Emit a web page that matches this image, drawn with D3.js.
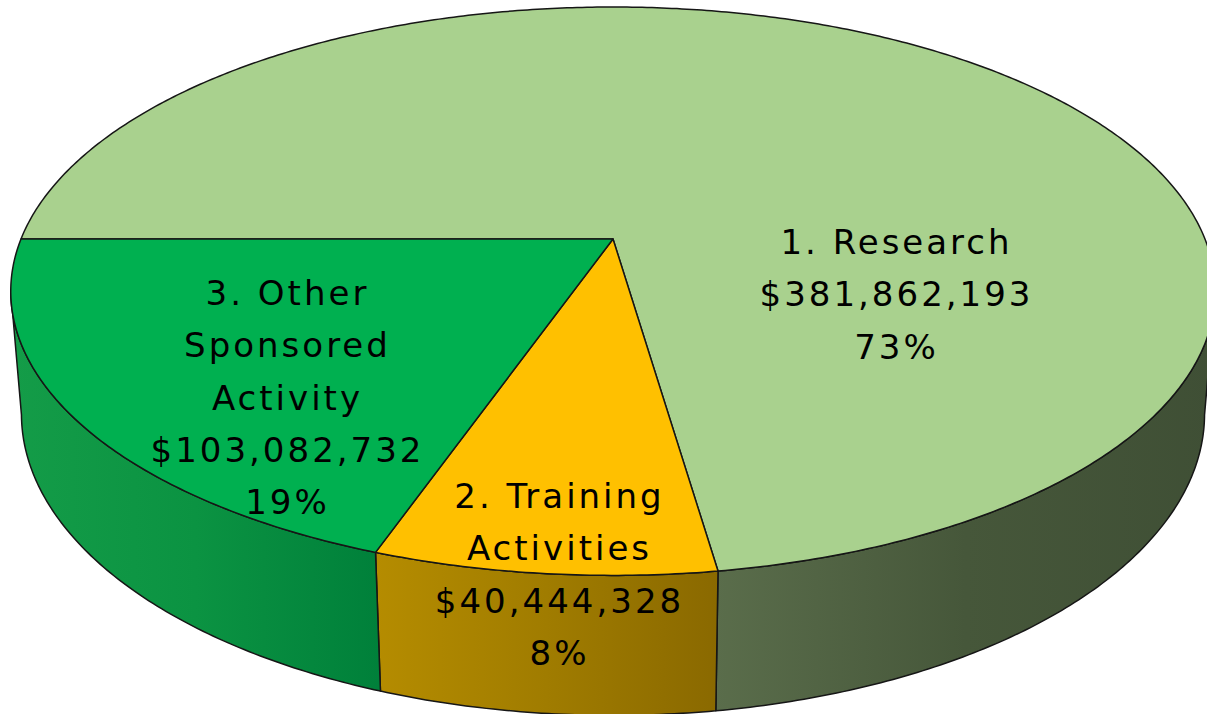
<!DOCTYPE html>
<html><head><meta charset="utf-8">
<script src="https://cdn.jsdelivr.net/npm/d3@7"></script>
<style>html,body{margin:0;padding:0;background:#fff;overflow:hidden}</style>
</head><body>
<svg id="chart" width="1207" height="714"></svg>
<script>
// ---- data ----
const categories = ["1. Research", "2. Training Activities", "3. Other Sponsored Activity"];
const values = [381862193, 40444328, 103082732];
const percentLabels = ["73%", "8%", "19%"];
const labelLines = [["1. Research"], ["2. Training", "Activities"], ["3. Other", "Sponsored", "Activity"]];
const topColors = ["#a9d18e", "#ffc000", "#00b050"];
const wallStops = [
  ["#5a6d4b", "#46573a", "#3f4f35"],
  ["#b58c00", "#a07c00", "#8a6900"],
  ["#149c48", "#0b9342", "#00803a"]
];

// ---- layout / projection ----
const W = 1207, H = 714;
const P = {Xc: 613, Yc: 239, a: 592, b: 274.6, k: 0.1837, m: 0.0175, d: 122.6};
const labelLayout = [
  {x: 895, y: 254},
  {x: 558, y: 508},
  {x: 286, y: 305}
];
const lineH = 52.3;

const svg = d3.select("#chart");
const defs = svg.append("defs");

const xScale = d3.scaleLinear().domain([-1, 1]).range([P.Xc - P.a, P.Xc + P.a]);
function proj(theta, r, hd) {
  const u = r * Math.sin(theta), v = -r * Math.cos(theta);
  const w = 1 - P.k * v + P.m * hd;
  return [xScale(u / w), P.Yc + (P.b * v + P.d * hd) / w];
}

const pie = d3.pie().sort(null).value(d => d)
  .startAngle(1.5 * Math.PI).endAngle(3.5 * Math.PI);
const arcs = pie(values);

const lineGen = d3.line();
function arcPts(a0, a1, hd) {
  const n = Math.max(2, Math.ceil(Math.abs(a1 - a0) / 0.01));
  return d3.range(n + 1).map(i => proj(a0 + (a1 - a0) * i / n, 1, hd));
}

const asinK = Math.asin(P.k);
const frontStart = 2.5 * Math.PI + asinK;   // right silhouette
const frontEnd = 3.5 * Math.PI - asinK;     // left silhouette

// gradients
arcs.forEach((d, i) => {
  const g = defs.append("linearGradient").attr("id", "wall" + i)
    .attr("x1", "0%").attr("x2", "100%").attr("y1", "0%").attr("y2", "0%");
  wallStops[i].forEach((c, j) => g.append("stop")
    .attr("offset", (j / (wallStops[i].length - 1) * 100) + "%").attr("stop-color", c));
});

const stroke = "#161616", sw = 1.5;

// walls
const wallG = svg.append("g");
arcs.forEach((d, i) => {
  const s = Math.max(d.startAngle, frontStart), e = Math.min(d.endAngle, frontEnd);
  if (e <= s) return;
  const pts = arcPts(s, e, 0).concat(arcPts(e, s, 1));
  wallG.append("path").attr("d", lineGen(pts) + "Z")
    .attr("fill", `url(#wall${i})`).attr("stroke", stroke).attr("stroke-width", sw)
    .attr("stroke-linejoin", "round");
});

// top faces
const topG = svg.append("g");
arcs.forEach((d, i) => {
  const pts = [proj(0, 0, 0)].concat(arcPts(d.startAngle, d.endAngle, 0));
  topG.append("path").attr("d", lineGen(pts) + "Z")
    .attr("fill", topColors[i]).attr("stroke", stroke).attr("stroke-width", sw)
    .attr("stroke-linejoin", "round");
});

// labels
const fmt = d3.format("$,");
const labG = svg.append("g")
  .attr("font-family", "'DejaVu Sans', Verdana, sans-serif")
  .attr("font-size", 34).attr("fill", "#000").attr("text-anchor", "middle")
  .attr("letter-spacing", 3);
arcs.forEach((d, i) => {
  const lines = labelLines[i].concat([fmt(values[i]), percentLabels[i]]);
  const t = labG.append("text");
  lines.forEach((ln, j) => t.append("tspan")
    .attr("x", labelLayout[i].x + 1.5).attr("y", labelLayout[i].y + j * lineH).text(ln));
});
</script>
</body></html>
